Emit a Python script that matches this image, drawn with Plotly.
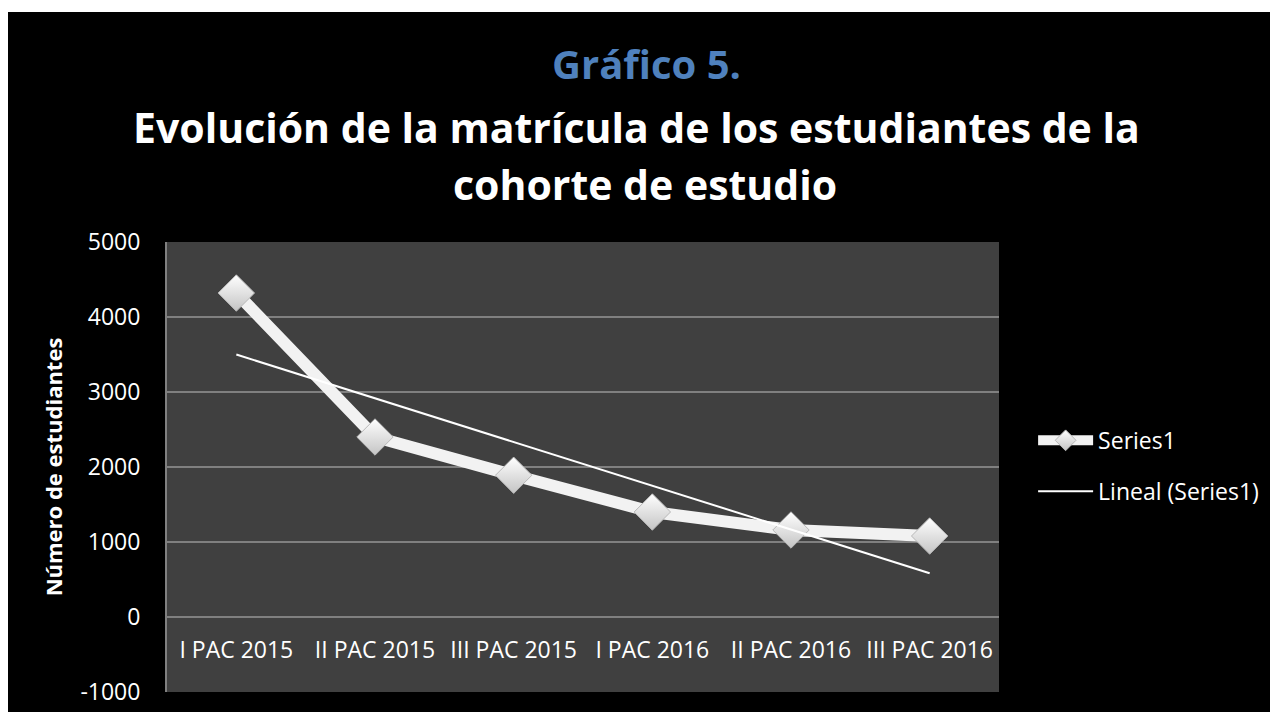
import numpy as np
import plotly.graph_objects as go

periodos = ["I PAC 2015", "II PAC 2015", "III PAC 2015", "I PAC 2016", "II PAC 2016", "III PAC 2016"]
matricula = [4320, 2400, 1890, 1400, 1160, 1080]
y_ticks = [-1000, 0, 1000, 2000, 3000, 4000, 5000]
y_ticktext = ["-1000", "0", "1000", "2000", "3000", "4000", "5000"]

# linear trend of the series (Excel "Lineal" trendline)
idx = np.arange(1, len(matricula) + 1)
pend, inter = np.polyfit(idx, matricula, 1)
tendencia = pend * idx + inter

fig = go.Figure()

fig.add_trace(go.Scatter(
    x=periodos, y=matricula, name="Series1", mode="lines+markers",
    line=dict(color="#f2f2f2", width=12),
    marker=dict(symbol="diamond", size=28, color="#ffffff",
                gradient=dict(type="vertical", color="#c4c4c4"),
                line=dict(color="#b8b8b8", width=1)),
    legendgroup="a",
))
fig.add_trace(go.Scatter(
    x=periodos, y=tendencia, name="Lineal (Series1)", mode="lines",
    line=dict(color="#ffffff", width=2),
    legendgroup="b",
))

# title lines: text, colour, size, x centre (px), y (paper)
titulos = [
    ("Gráfico 5.", "#4f81bd", 40, 646, 1.396),
    ("Evolución de la matrícula de los estudiantes de la", "#ffffff", 41, 636, 1.255),
    ("cohorte de estudio", "#ffffff", 41, 645, 1.128),
]
for txt, col, sz, xc, yy in titulos:
    fig.add_annotation(text=txt, xref="paper", yref="paper", x=(xc - 167) / 832, y=yy,
                       xanchor="center", yanchor="middle", showarrow=False,
                       font=dict(family="Open Sans", size=sz, color=col, weight="bold"))

fig.update_layout(
    width=1270, height=704,
    paper_bgcolor="#000000", plot_bgcolor="#404040",
    margin=dict(l=159, r=279, t=234, b=20),
    font=dict(family="Open Sans", color="#ffffff", size=23),
    showlegend=True,
    legend=dict(x=1.041, y=0.607, xanchor="left", yanchor="top",
                tracegroupgap=18, itemwidth=55,
                bgcolor="rgba(0,0,0,0)", font=dict(size=23, color="#ffffff")),
    xaxis=dict(
        type="category", range=[-0.5, 5.5],
        anchor="free", position=1 / 6, automargin=False,
        showgrid=False, showline=True, linecolor="#808080", linewidth=2,
        ticks="", ticklabelstandoff=12,
        tickfont=dict(size=23, color="#ffffff"),
    ),
    yaxis=dict(
        range=[-1000, 5000], tickvals=y_ticks, ticktext=y_ticktext,
        automargin=False, ticklabeloverflow="allow",
        showgrid=True, gridcolor="#808080", gridwidth=2,
        zeroline=False, showline=True, linecolor="#808080", linewidth=2,
        ticks="", ticklabelstandoff=20, tickfont=dict(size=23, color="#ffffff"),
        title=dict(text="Número de estudiantes", standoff=12,
                   font=dict(size=22, color="#ffffff", weight="bold")),
    ),
    shapes=[
        dict(type="rect", xref="paper", yref="paper", x0=-0.3, x1=1.4,
             y0=(692 - 12) / 450, y1=(692 - 6) / 450, fillcolor="#ffffff", line_width=0, layer="above"),
    ],
)

fig.write_html("out.html")
